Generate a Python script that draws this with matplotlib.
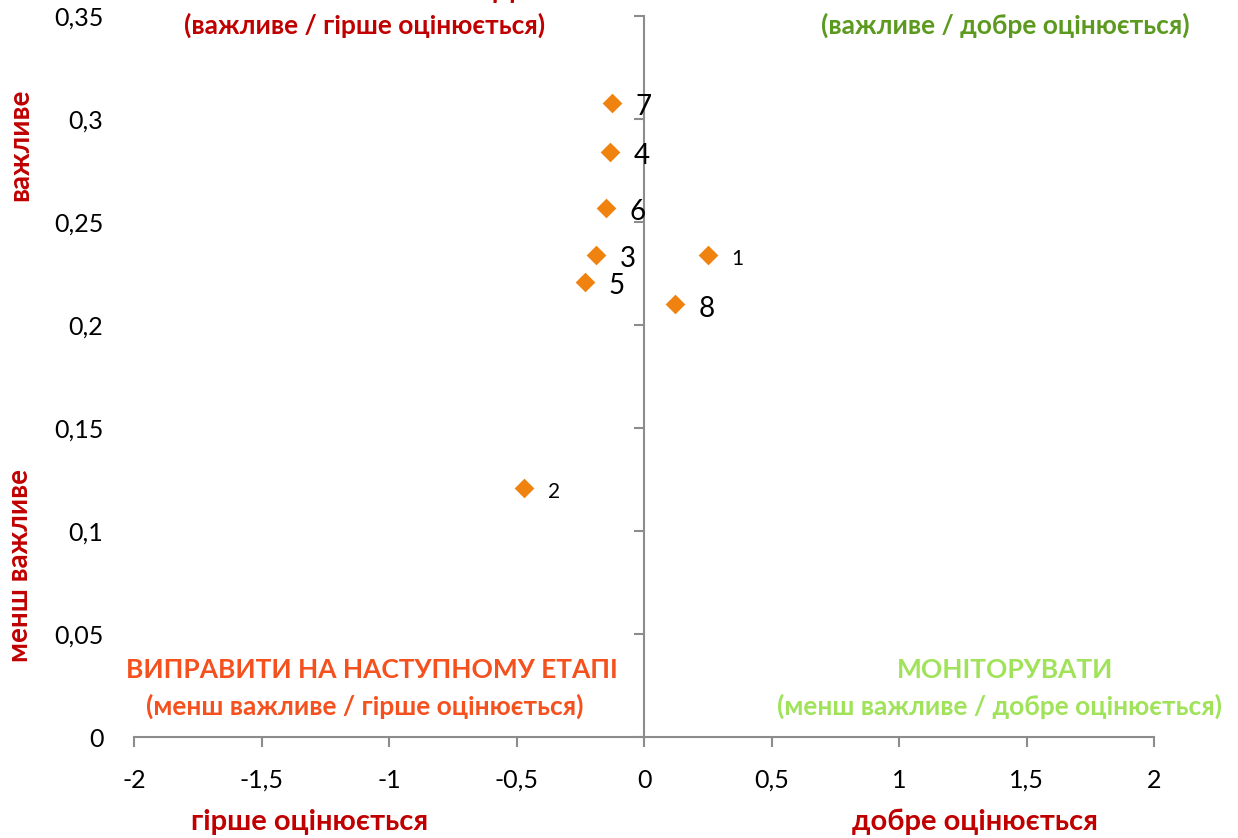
import matplotlib.pyplot as plt
from matplotlib.ticker import FuncFormatter

# точки: оцінка (x) та важливість (y)
labels = ["1", "2", "3", "4", "5", "6", "7", "8"]
score = [0.251, -0.471, -0.188, -0.133, -0.231, -0.149, -0.125, 0.122]
importance = [0.234, 0.121, 0.234, 0.284, 0.221, 0.257, 0.308, 0.210]
label_sizes = [15, 15, 20, 20, 20, 20, 20, 20]

x_ticks = [-2, -1.5, -1, -0.5, 0, 0.5, 1, 1.5, 2]
y_ticks = [0, 0.05, 0.1, 0.15, 0.2, 0.25, 0.3, 0.35]

plt.rcParams['font.family'] = ['Lato', 'DejaVu Sans']

W, H = 1238, 838
fig = plt.figure(figsize=(W / 100, H / 100), dpi=100)
ax = fig.add_axes([134 / W, 1 - 737 / H, (1154 - 134) / W, (737 - 16) / H])

ax.set_xlim(-2, 2)
ax.set_ylim(0, 0.35)

axis_col = '#8c8c8c'
ax.spines['top'].set_visible(False)
ax.spines['right'].set_visible(False)
ax.spines['left'].set_position(('data', 0))
for s in ['left', 'bottom']:
    ax.spines[s].set_color(axis_col)
    ax.spines[s].set_linewidth(1.5)

comma = FuncFormatter(lambda v, p: ('%g' % v).replace('.', ','))
ax.set_xticks(x_ticks)
ax.xaxis.set_major_formatter(comma)
ax.tick_params(axis='x', direction='out', length=7, width=1.5, color=axis_col,
               labelsize=18, pad=16)
ax.set_yticks(y_ticks)
ax.tick_params(axis='y', direction='out', length=7, width=1.5, color=axis_col,
               labelleft=False)

# підписи осі y біля лівого краю
sec = ax.secondary_yaxis('left')
sec.set_yticks(y_ticks)
sec.yaxis.set_major_formatter(comma)
sec.spines['left'].set_visible(False)
sec.tick_params(axis='y', length=0, labelsize=18, pad=22)

ax.scatter(score, importance, marker='D', s=100, color='#f0820f', zorder=3,
           linewidths=0)
for lab, xv, yv, fs in zip(labels, score, importance, label_sizes):
    ax.annotate(lab, (xv, yv), xytext=(17, -3), textcoords='offset points',
                fontsize=fs, va='center', ha='left')

def ftext(x, y, s, color, size=19):
    fig.text(x / W, 1 - y / H, s, color=color, fontsize=size, fontweight='bold',
             ha='center', va='center')

red = '#c00000'
# верхні заголовки обрізані краєм, як в оригіналі
ftext(335, -9, "ВИПРАВИТИ НАСАМПЕРЕД", red)
ftext(365, 25, "(важливе / гірше оцінюється)", red)
ftext(1005, -9, "УТРИМУВАТИ", '#5b9a1e')
ftext(1005, 25, "(важливе / добре оцінюється)", '#5b9a1e')
ftext(372, 670, "ВИПРАВИТИ НА НАСТУПНОМУ ЕТАПІ", '#f4511e')
ftext(365, 706, "(менш важливе / гірше оцінюється)", '#f4511e')
ftext(1005, 670, "МОНІТОРУВАТИ", '#a0e35a')
ftext(1000, 706, "(менш важливе / добре оцінюється)", '#a0e35a')

ftext(310, 822, "гірше оцінюється", red, 21)
ftext(975, 822, "добре оцінюється", red, 21)
fig.text(20 / W, 1 - 145 / H, "важливе", color=red, fontsize=20, fontweight='bold',
         rotation=90, ha='center', va='center')
fig.text(20 / W, 1 - 565 / H, "менш важливе", color=red, fontsize=20, fontweight='bold',
         rotation=90, ha='center', va='center')

fig.savefig("out.png", dpi=100)
